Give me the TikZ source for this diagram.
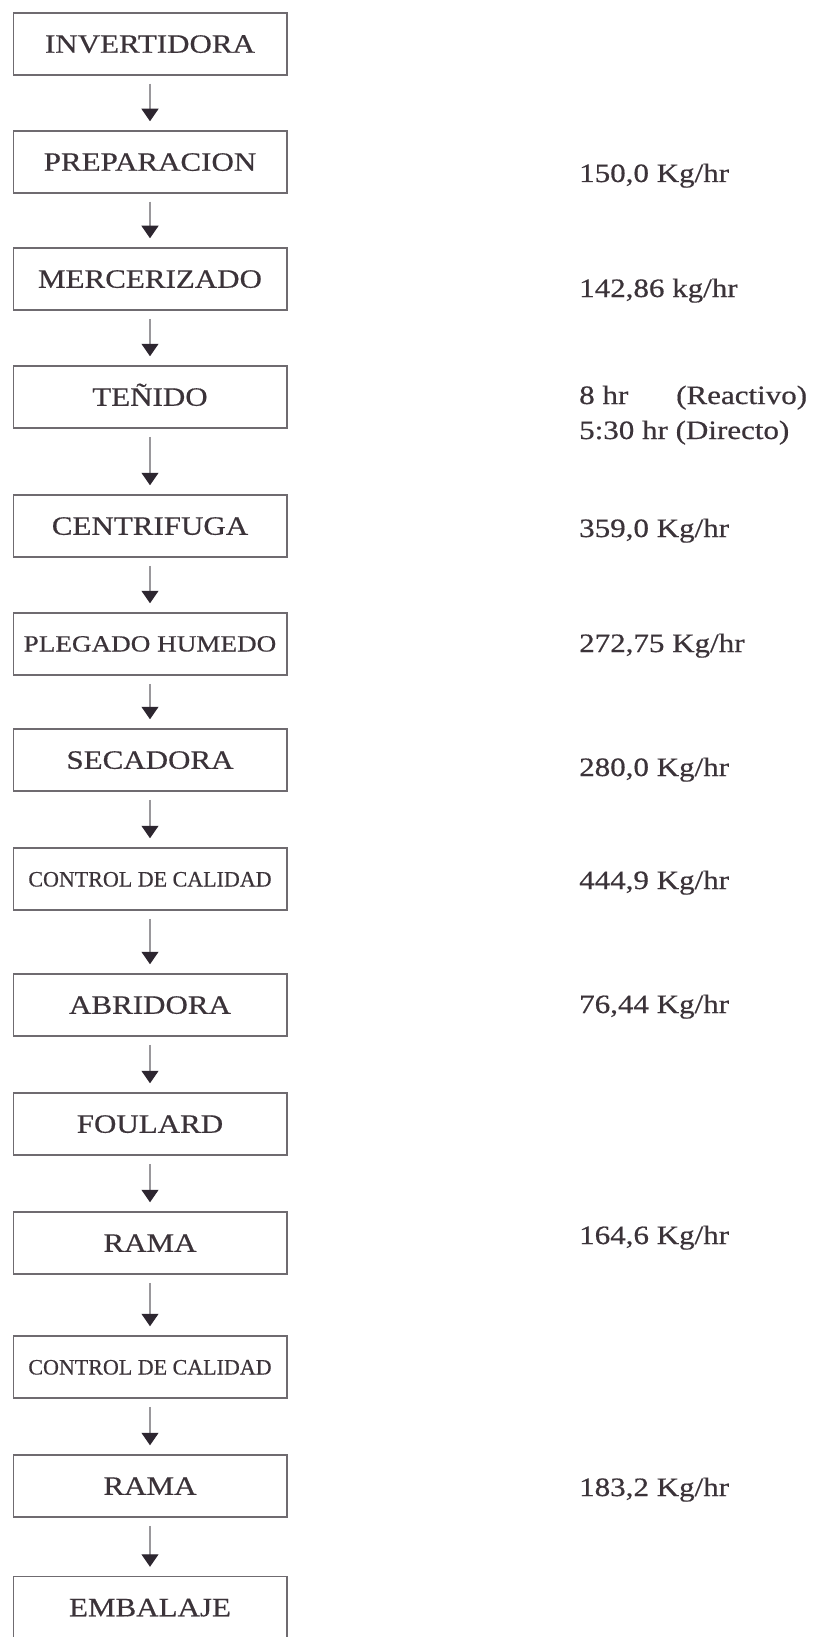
\documentclass[tikz,border=0pt]{standalone}
\usepackage{fontspec}
\setmainfont{Liberation Serif}[FakeStretch=1.17,FakeBold=0.5]
\newfontfamily\plainserif{Liberation Serif}[FakeBold=0.5]
\usetikzlibrary{arrows.meta}
\definecolor{inkc}{HTML}{3B3339}
\definecolor{framec}{HTML}{6F6B70}
\definecolor{shaftc}{HTML}{9A989C}
\definecolor{tipc}{HTML}{2D2630}
\begin{document}
\begin{tikzpicture}[x=1pt,y=1pt,
  stage/.style={draw=framec, line width=1.5pt, minimum width=273.5pt, minimum height=62pt,
    inner sep=0pt, text=inkc, text height=17.5pt, text depth=0pt,
    font=\fontsize{26.5}{30}\selectfont},
  smallstage/.style={stage, text height=15pt, font=\plainserif\fontsize{22}{26}\selectfont},
  widestage/.style={stage, text height=15pt, font=\fontsize{23.2}{26}\selectfont},
  rate/.style={anchor=base west, inner sep=0pt, text=inkc, font=\fontsize{26.5}{30}\selectfont},
  flow/.style={draw=shaftc, line width=1.2pt,
    -{Triangle[length=12.5pt,width=17pt,color=tipc,fill=tipc]}}
]
% page area
\useasboundingbox[fill=white] (0,0) rectangle (816,-1637);

% process stages
\node[stage]      (s1)  at (150,-44)    {INVERTIDORA};
\node[stage]      (s2)  at (150,-162)   {PREPARACION};
\node[stage]      (s3)  at (150,-279)   {MERCERIZADO};
\node[stage]      (s4)  at (150,-397)   {TEÑIDO};
\node[stage]      (s5)  at (150,-526)   {CENTRIFUGA};
\node[widestage]  (s6)  at (150,-644)   {PLEGADO HUMEDO};
\node[stage]      (s7)  at (150,-760)   {SECADORA};
\node[smallstage] (s8)  at (150,-879)   {CONTROL DE CALIDAD};
\node[stage]      (s9)  at (150,-1005)  {ABRIDORA};
\node[stage]      (s10) at (150,-1124)  {FOULARD};
\node[stage]      (s11) at (150,-1243)  {RAMA};
\node[smallstage] (s12) at (150,-1367)  {CONTROL DE CALIDAD};
\node[stage]      (s13) at (150,-1486)  {RAMA};
\node[stage]      (s14) at (150,-1607.5){EMBALAJE};

% flow arrows
\foreach \a/\b in {s1/s2,s2/s3,s3/s4,s4/s5,s5/s6,s6/s7,s7/s8,s8/s9,s9/s10,s10/s11,s11/s12,s12/s13,s13/s14}
  \draw[flow] ([yshift=-8pt]\a.south) -- ([yshift=9pt]\b.north);

% capacities and times
\node[rate] (r2)  at (579,-182)  {150,0 Kg/hr};
\node[rate] (r3)  at (579,-297)  {142,86 kg/hr};
\node[rate] (r4a) at (579,-404)  {8 hr};
\node[rate] (r4b) at (676,-404)  {(Reactivo)};
\node[rate] (r4c) at (579,-439)  {5:30 hr (Directo)};
\node[rate] (r5)  at (579,-537)  {359,0 Kg/hr};
\node[rate] (r6)  at (579,-652)  {272,75 Kg/hr};
\node[rate] (r7)  at (579,-776)  {280,0 Kg/hr};
\node[rate] (r8)  at (579,-889)  {444,9 Kg/hr};
\node[rate] (r9)  at (579,-1013) {76,44 Kg/hr};
\node[rate] (r11) at (579,-1244) {164,6 Kg/hr};
\node[rate] (r13) at (579,-1496) {183,2 Kg/hr};
\end{tikzpicture}
\end{document}
